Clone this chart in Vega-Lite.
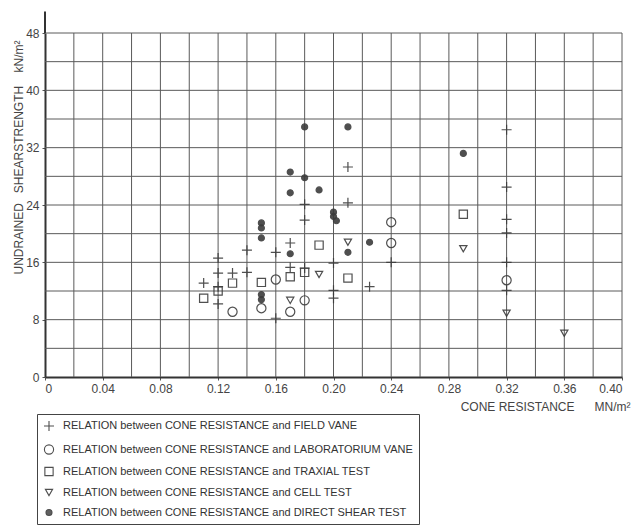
{
  "$schema": "https://vega.github.io/schema/vega-lite/v6.json",
  "width": 577,
  "height": 344,
  "autosize": "none",
  "padding": {"left": 45, "top": 33, "right": 19, "bottom": 152},
  "background": "white",
  "config": {
    "view": {"stroke": null},
    "font": "Liberation Sans",
    "axis": {
      "grid": false,
      "domainColor": "#333",
      "domainWidth": 2,
      "tickColor": "#555",
      "tickSize": 3,
      "labelColor": "#444",
      "labelFontSize": 12,
      "labelFont": "Liberation Sans",
      "titleColor": "#444",
      "titleFont": "Liberation Sans",
      "titleFontWeight": "normal",
      "titleFontSize": 12
    }
  },
  "datasets": {
    "gx": [
      {"x": 0.02}, {"x": 0.04}, {"x": 0.06}, {"x": 0.08}, {"x": 0.10},
      {"x": 0.12}, {"x": 0.14}, {"x": 0.16}, {"x": 0.18}, {"x": 0.20},
      {"x": 0.22}, {"x": 0.24}, {"x": 0.26}, {"x": 0.28}, {"x": 0.30},
      {"x": 0.32}, {"x": 0.34}, {"x": 0.36}, {"x": 0.38}, {"x": 0.40}
    ],
    "gy": [
      {"y": 4}, {"y": 8}, {"y": 12}, {"y": 16}, {"y": 20}, {"y": 24},
      {"y": 28}, {"y": 32}, {"y": 36}, {"y": 40}, {"y": 44}, {"y": 48}
    ],
    "pts": [
      {"s": "F", "x": 0.11, "y": 13.1},
      {"s": "F", "x": 0.12, "y": 12.6},
      {"s": "F", "x": 0.12, "y": 14.5},
      {"s": "F", "x": 0.12, "y": 16.6},
      {"s": "F", "x": 0.12, "y": 10.2},
      {"s": "F", "x": 0.13, "y": 14.5},
      {"s": "F", "x": 0.14, "y": 14.6},
      {"s": "F", "x": 0.14, "y": 17.7},
      {"s": "F", "x": 0.16, "y": 17.4},
      {"s": "F", "x": 0.16, "y": 8.2},
      {"s": "F", "x": 0.17, "y": 18.7},
      {"s": "F", "x": 0.17, "y": 15.3},
      {"s": "F", "x": 0.18, "y": 24.1},
      {"s": "F", "x": 0.18, "y": 15.2},
      {"s": "F", "x": 0.18, "y": 21.9},
      {"s": "F", "x": 0.20, "y": 15.9},
      {"s": "F", "x": 0.20, "y": 12.1},
      {"s": "F", "x": 0.20, "y": 11.0},
      {"s": "F", "x": 0.21, "y": 29.3},
      {"s": "F", "x": 0.21, "y": 24.3},
      {"s": "F", "x": 0.225, "y": 12.6},
      {"s": "F", "x": 0.24, "y": 16.0},
      {"s": "F", "x": 0.32, "y": 34.5},
      {"s": "F", "x": 0.32, "y": 26.5},
      {"s": "F", "x": 0.32, "y": 20.1},
      {"s": "F", "x": 0.32, "y": 16.0},
      {"s": "F", "x": 0.32, "y": 12.1},
      {"s": "F", "x": 0.32, "y": 22.0},
      {"s": "L", "x": 0.13, "y": 9.1},
      {"s": "L", "x": 0.15, "y": 9.6},
      {"s": "L", "x": 0.17, "y": 9.1},
      {"s": "L", "x": 0.18, "y": 10.7},
      {"s": "L", "x": 0.24, "y": 18.7},
      {"s": "L", "x": 0.24, "y": 21.6},
      {"s": "L", "x": 0.32, "y": 13.5},
      {"s": "L", "x": 0.16, "y": 13.6},
      {"s": "T", "x": 0.11, "y": 11.0},
      {"s": "T", "x": 0.12, "y": 12.0},
      {"s": "T", "x": 0.13, "y": 13.1},
      {"s": "T", "x": 0.15, "y": 13.2},
      {"s": "T", "x": 0.17, "y": 14.0},
      {"s": "T", "x": 0.18, "y": 14.6},
      {"s": "T", "x": 0.19, "y": 18.4},
      {"s": "T", "x": 0.21, "y": 13.8},
      {"s": "T", "x": 0.29, "y": 22.7},
      {"s": "C", "x": 0.17, "y": 10.7},
      {"s": "C", "x": 0.19, "y": 14.3},
      {"s": "C", "x": 0.21, "y": 18.8},
      {"s": "C", "x": 0.29, "y": 17.9},
      {"s": "C", "x": 0.32, "y": 8.9},
      {"s": "C", "x": 0.36, "y": 6.1},
      {"s": "D", "x": 0.18, "y": 34.9},
      {"s": "D", "x": 0.21, "y": 34.9},
      {"s": "D", "x": 0.17, "y": 28.6},
      {"s": "D", "x": 0.18, "y": 27.8},
      {"s": "D", "x": 0.17, "y": 25.7},
      {"s": "D", "x": 0.19, "y": 26.1},
      {"s": "D", "x": 0.20, "y": 23.0},
      {"s": "D", "x": 0.20, "y": 22.4},
      {"s": "D", "x": 0.202, "y": 21.8},
      {"s": "D", "x": 0.15, "y": 21.5},
      {"s": "D", "x": 0.15, "y": 20.8},
      {"s": "D", "x": 0.15, "y": 19.4},
      {"s": "D", "x": 0.29, "y": 31.2},
      {"s": "D", "x": 0.225, "y": 18.8},
      {"s": "D", "x": 0.15, "y": 11.5},
      {"s": "D", "x": 0.15, "y": 10.8},
      {"s": "D", "x": 0.17, "y": 17.2},
      {"s": "D", "x": 0.21, "y": 17.4}
    ],
    "ext": [{"x": 0, "y": 48, "y2": 51}]
  },
  "layer": [
    {
      "data": {"name": "gx"},
      "mark": {"type": "rule", "color": "#5a5a5a", "strokeWidth": 1},
      "encoding": {
        "x": {"field": "x", "type": "quantitative"}
      }
    },
    {
      "data": {"name": "gy"},
      "mark": {"type": "rule", "color": "#5a5a5a", "strokeWidth": 1},
      "encoding": {
        "y": {"field": "y", "type": "quantitative"}
      }
    },
    {
      "data": {"name": "pts"},
      "mark": {"type": "point", "stroke": "#3c3c3c", "strokeWidth": 1.2, "opacity": 0.9},
      "encoding": {
        "x": {
          "field": "x", "type": "quantitative",
          "scale": {"domain": [0, 0.4], "nice": false, "zero": true},
          "axis": {
            "values": [0, 0.04, 0.08, 0.12, 0.16, 0.2, 0.24, 0.28, 0.32, 0.36, 0.4],
            "labelExpr": "datum.value == 0 ? '0' : format(datum.value, '.2f')",
            "labelPadding": 3,
            "labelOverlap": false,
            "title": "CONE\u00a0RESISTANCE\u00a0\u00a0\u00a0\u00a0\u00a0\u00a0MN/m²",
            "titleX": 585,
            "titleY": 29,
            "titleAlign": "right",
            "titleBaseline": "middle"
          }
        },
        "y": {
          "field": "y", "type": "quantitative",
          "scale": {"domain": [0, 48], "nice": false, "zero": true},
          "axis": {
            "values": [0, 8, 16, 24, 32, 40, 48],
            "labelPadding": 3,
            "labelOverlap": false,
            "title": "UNDRAINED\u00a0\u00a0\u00a0SHEARSTRENGTH\u00a0\u00a0\u00a0\u00a0kN/m²",
            "titleAngle": -90,
            "titleX": -27,
            "titleY": 124,
            "titleAlign": "center",
            "titleBaseline": "middle"
          }
        },
        "shape": {
          "field": "s", "type": "nominal",
          "scale": {"domain": ["F", "L", "T", "C", "D"], "range": ["M-1,0H1M0,-1V1", "circle", "square", "triangle-down", "circle"]},
          "legend": {
            "orient": "none",
            "legendX": -8,
            "legendY": 381,
            "title": null,
            "strokeColor": "#444",
            "fillColor": "white",
            "padding": 6,
            "rowPadding": 8,
            "labelFontSize": 11,
            "labelFont": "Liberation Sans",
            "labelColor": "#333",
            "labelLimit": 500,
            "labelOffset": 8,
            "symbolStrokeColor": "#3c3c3c",
            "symbolStrokeWidth": 1.1,
            "symbolOpacity": 1,
            "labelExpr": "datum.label == 'F' ? 'RELATION between CONE RESISTANCE and FIELD VANE' : datum.label == 'L' ? 'RELATION between CONE RESISTANCE and LABORATORIUM VANE' : datum.label == 'T' ? 'RELATION between CONE RESISTANCE and TRAXIAL TEST' : datum.label == 'C' ? 'RELATION between CONE RESISTANCE and CELL TEST' : 'RELATION between CONE RESISTANCE and DIRECT SHEAR TEST'"
          }
        },
        "fill": {
          "field": "s", "type": "nominal",
          "scale": {"domain": ["F", "L", "T", "C", "D"], "range": ["transparent", "transparent", "transparent", "transparent", "#3c3c3c"]}
        },
        "size": {
          "field": "s", "type": "nominal",
          "scale": {"domain": ["F", "L", "T", "C", "D"], "range": [100, 36, 36, 64, 40]}
        }
      }
    },
    {
      "data": {"name": "ext"},
      "mark": {"type": "rule", "color": "#333", "strokeWidth": 2, "clip": false},
      "encoding": {
        "x": {"field": "x", "type": "quantitative"},
        "y": {"field": "y", "type": "quantitative"},
        "y2": {"field": "y2"}
      }
    }
  ]
}
